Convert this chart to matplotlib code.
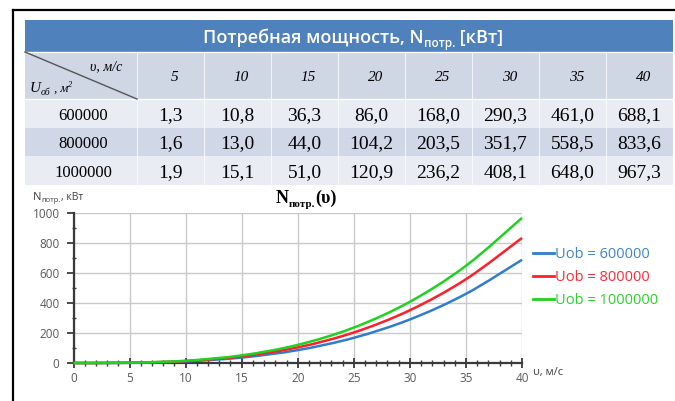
import matplotlib
matplotlib.use("Agg")
import matplotlib.pyplot as plt
import numpy as np
from matplotlib.path import Path
from matplotlib.patches import PathPatch, Rectangle
from matplotlib.lines import Line2D
from matplotlib.ticker import MultipleLocator

# ---- data ----
speeds = [5, 10, 15, 20, 25, 30, 35, 40]                 # v, m/s
volumes = ["600000", "800000", "1000000"]                # U_ob
power_600k = [1.3, 10.8, 36.3, 86.0, 168.0, 290.3, 461.0, 688.1]
power_800k = [1.6, 13.0, 44.0, 104.2, 203.5, 351.7, 558.5, 833.6]
power_1000k = [1.9, 15.1, 51.0, 120.9, 236.2, 408.1, 648.0, 967.3]
series_labels = ["Uob = 600000", "Uob = 800000", "Uob = 1000000"]
series_colors = ["#2f7dcc", "#ff1f2a", "#1fd21f"]
label_colors = ["#3f84c8", "#ff2a3a", "#2ad22a"]
x_ticks = [0, 5, 10, 15, 20, 25, 30, 35, 40]
y_ticks = [0, 200, 400, 600, 800, 1000]
origin_speed, origin_power = 0, 0.0

W, H = 675, 401
fig = plt.figure(figsize=(W / 100, H / 100), dpi=100)
fig.patch.set_facecolor("white")

# background axes in pixel units for the table and frame
bg = fig.add_axes([0, 0, 1, 1])
bg.set_xlim(0, W)
bg.set_ylim(H, 0)
bg.axis("off")

SERIF = ["Liberation Serif", "DejaVu Serif"]
SANS = ["Open Sans", "DejaVu Sans"]

renderer = fig.canvas.get_renderer()


def runs_text(ax, x, y, runs, ha="center", color="black", family=SANS,
              weight="normal", style="normal", zorder=5):
    """Draw a sequence of (text, size, dy) pieces side by side."""
    objs = []
    for s, size, dy in runs:
        t = ax.text(0, 0, s, fontsize=size, color=color, family=family,
                    weight=weight, style=style, va="baseline", ha="left",
                    zorder=zorder)
        objs.append((t, dy))
    widths = [t.get_window_extent(renderer).width for t, _ in objs]
    total = sum(widths)
    x0 = x - total / 2 if ha == "center" else x
    for (t, dy), w in zip(objs, widths):
        t.set_position((x0, y + dy))
        x0 += w
    return objs


# frame lines
bg.plot([12.5, W], [9.5, 9.5], color="black", lw=1.6, zorder=6)
bg.plot([12.5, 12.5], [9.5, H], color="black", lw=1.6, zorder=6)

# ---- table ----
tx0, tx1 = 25, 673
first_w = 112
col_w = (tx1 - tx0 - first_w) / len(speeds)
y_title0, y_head0, y_row0, row_h = 20, 52, 99, 28.5

bg.add_patch(Rectangle((tx0, y_title0), tx1 - tx0, y_head0 - y_title0,
                       facecolor="#4f81bd", edgecolor="none", zorder=1))
bg.add_patch(Rectangle((tx0, y_head0), tx1 - tx0, y_row0 - y_head0,
                       facecolor="#cfd6e4", edgecolor="none", zorder=1))
row_colors = ["#e9ecf3", "#d0d7e6", "#e9ecf3"]
for i, c in enumerate(row_colors):
    bg.add_patch(Rectangle((tx0, y_row0 + i * row_h), tx1 - tx0, row_h,
                           facecolor=c, edgecolor="none", zorder=1))
# thin white separators
for i in range(len(speeds) + 1):
    xs = tx0 + first_w + i * col_w
    bg.plot([xs, xs], [y_head0, y_row0 + 3 * row_h], color="white",
            lw=0.8, alpha=0.7, zorder=2)
bg.plot([tx0, tx1], [y_head0, y_head0], color="white", lw=1.0, zorder=2)
bg.plot([tx0, tx1], [y_row0, y_row0], color="white", lw=1.0, zorder=2)

# title of table
runs_text(bg, (tx0 + tx1) / 2 + 4, 43,
          [("Потребная мощность, N", 13, 0), ("потр.", 8.5, 4),
           (" [кВт]", 13, 0)],
          color="white", family=SANS, weight="semibold")

# corner cell
bg.plot([tx0, tx0 + first_w], [y_head0, y_row0], color="#555555", lw=1.0,
        zorder=3)
runs_text(bg, 90, 70, [("υ, м/с", 10, 0)], ha="left", family=SERIF,
          style="italic")
runs_text(bg, 30, 92, [("U", 11, 0), ("об", 7, 3), (" , м", 9, 0),
                       ("2", 6, -5)], ha="left", family=SERIF, style="italic")

# header speeds
for j, v in enumerate(speeds):
    cx = tx0 + first_w + (j + 0.5) * col_w + 4
    runs_text(bg, cx, 81, [(str(v), 11, 0)], family=SERIF, style="italic")

# body values
table_rows = [power_600k, power_800k, power_1000k]
for i, (lab, vals) in enumerate(zip(volumes, table_rows)):
    yb = y_row0 + i * row_h + 21
    runs_text(bg, tx0 + first_w / 2 + 2, yb, [(lab, 12, 0)], family=SERIF)
    for j, val in enumerate(vals):
        cx = tx0 + first_w + (j + 0.5) * col_w
        s = f"{val:.1f}".replace(".", ",")
        runs_text(bg, cx, yb, [(s, 14, 0)], family=SERIF)

# ---- chart ----
ax_l, ax_r, ax_t, ax_b = 73.5, 522, 213, 363
ax = fig.add_axes([ax_l / W, 1 - ax_b / H, (ax_r - ax_l) / W,
                   (ax_b - ax_t) / H])
ax.set_xlim(0, 40)
ax.set_ylim(0, 1000)
ax.set_facecolor("white")
ax.set_xticks(x_ticks)
ax.set_yticks(y_ticks)
ax.xaxis.set_minor_locator(MultipleLocator(1))
ax.yaxis.set_minor_locator(MultipleLocator(100))
ax.grid(True, which="major", color="#c9c9c9", lw=1.0)
for side in ("top", "right"):
    ax.spines[side].set_visible(False)
for side in ("left", "bottom"):
    ax.spines[side].set_color("#3a3a3a")
    ax.spines[side].set_linewidth(1.6)
ax.tick_params(axis="x", which="major", direction="inout", length=7,
               width=1.3, color="#3a3a3a", labelsize=8.5,
               labelcolor="#595959", pad=3)
ax.tick_params(axis="x", which="minor", direction="inout", length=4,
               width=1.0, color="#3a3a3a")
ax.tick_params(axis="y", which="major", direction="out", length=5,
               width=1.3, color="#3a3a3a", labelsize=8.5,
               labelcolor="#595959", pad=5)
ax.tick_params(axis="y", which="minor", direction="inout", length=3,
               width=1.0, color="#3a3a3a")
for lbl in ax.get_xticklabels() + ax.get_yticklabels():
    lbl.set_family(SANS)


def smooth_path(xs, ys):
    """Cardinal (Catmull-Rom) spline through the points as Bezier segments."""
    pts = np.column_stack([xs, ys]).astype(float)
    verts = [pts[0]]
    codes = [Path.MOVETO]
    n = len(pts)
    for k in range(n - 1):
        p0 = pts[k - 1] if k > 0 else pts[k]
        p1, p2 = pts[k], pts[k + 1]
        p3 = pts[k + 2] if k + 2 < n else pts[k + 1]
        c1 = p1 + (p2 - p0) / 6.0
        c2 = p2 - (p3 - p1) / 6.0
        verts += [c1, c2, p2]
        codes += [Path.CURVE4] * 3
    return Path(verts, codes)


for vals, col in zip(table_rows, series_colors):
    xs = [origin_speed] + speeds
    ys = [origin_power] + vals
    ax.add_patch(PathPatch(smooth_path(xs, ys), facecolor="none",
                           edgecolor=col, lw=1.8, zorder=4, clip_on=False))

# chart title and axis captions
runs_text(bg, 306, 203, [("N", 13, 0), ("потр.", 8, 4), ("(υ)", 13, 0)],
          family=SERIF, weight="bold")
runs_text(bg, 33, 200, [("N", 8, 0), ("потр.", 5.5, 2.5), (", кВт", 7.5, 0)],
          ha="left", family=SANS, color="#404040")
runs_text(bg, 533, 375, [("υ, м/с", 8, 0)], ha="left", family=SANS,
          color="#404040")

# legend
handles = [Line2D([], [], color=c, lw=2) for c in series_colors]
leg = fig.legend(handles, series_labels, loc="upper left",
                 bbox_to_anchor=(520 / W, 1 - 234 / H), frameon=False,
                 handlelength=1.4, handletextpad=0.1, labelspacing=0.55,
                 prop={"family": SANS, "size": 10.5})
for t, c in zip(leg.get_texts(), label_colors):
    t.set_color(c)

fig.savefig("out.png", dpi=100, facecolor="white")
